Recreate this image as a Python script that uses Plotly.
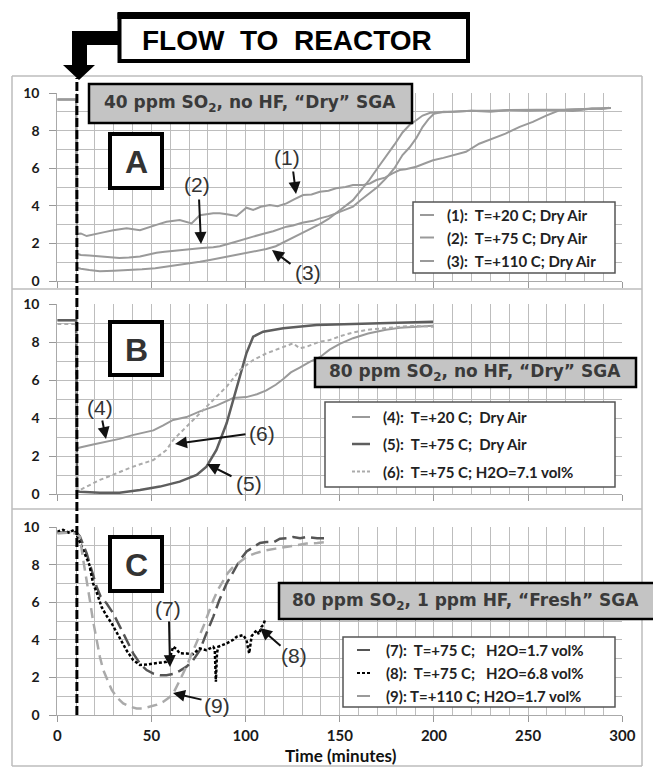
import plotly.graph_objects as go

W, H = 653, 768

# ---------------- data (minutes, signal) ----------------
# Panel A
T1 = [0, 10, 10.5, 12.5, 15.6, 20.9, 25, 29.7, 36.8, 43.9, 49, 53, 58, 65, 71.3, 75.7, 82.8, 86.3, 90, 95.2,
      100.4, 104, 108, 112.8, 117, 121.7, 126, 130.5, 135, 139.4, 144, 148, 153, 157, 162, 166, 169.4, 174,
      178, 181.8, 185, 190.6, 195, 199.5, 205, 210, 217, 224, 231, 238, 245.5, 252.5, 259.6, 266.6, 273.7,
      279, 284, 289, 293]
V1 = [9.65, 9.65, 2.5, 2.53, 2.39, 2.53, 2.6, 2.7, 2.8, 2.7, 2.88, 3.0, 3.15, 3.24, 3.06, 3.5, 3.6, 3.6, 3.55,
      3.46, 3.9, 3.78, 3.95, 4.04, 3.98, 4.13, 4.35, 4.57, 4.6, 4.75, 4.8, 4.93, 5.0, 5.1, 5.1, 5.19, 5.37, 5.5,
      5.73, 5.9, 5.94, 6.08, 6.25, 6.42, 6.55, 6.7, 6.87, 7.3, 7.57, 7.84, 8.2, 8.46, 8.8, 9.08, 9.04, 9.12,
      9.17, 9.15, 9.22]
T2 = [0, 10, 10.5, 12.5, 17, 22.6, 28, 33, 38, 43.9, 48, 52.7, 57, 61.5, 66, 72, 77, 82.8, 86.3, 93.4, 98, 104,
      109, 114.6, 121.7, 125.2, 130, 135.8, 139.4, 144, 148, 152, 157, 161, 165.6, 170, 174.5, 179, 183.3, 187,
      190.6, 194, 197, 200, 205, 210, 220, 230, 240, 250, 260, 270, 280, 290, 294]
V2 = [9.65, 9.65, 1.45, 1.38, 1.35, 1.3, 1.28, 1.22, 1.25, 1.3, 1.4, 1.5, 1.55, 1.6, 1.65, 1.72, 1.75, 1.8, 1.85,
      2.05, 2.2, 2.36, 2.5, 2.65, 2.89, 2.95, 3.1, 3.2, 3.33, 3.45, 3.6, 3.75, 3.95, 4.3, 4.66, 5.0, 5.46, 6.0,
      6.7, 7.1, 7.6, 8.2, 8.6, 8.9, 9.0, 9.0, 9.05, 9.0, 9.1, 9.05, 9.1, 9.1, 9.15, 9.2, 9.2]
T3 = [0, 10, 10.5, 12.5, 17, 22.6, 30, 38, 45, 52, 58, 67, 75.7, 81, 86.3, 93, 98, 104, 111, 116, 121.7, 127,
      132, 136, 139.4, 144, 148, 152, 157, 161, 165.6, 170, 174.5, 179, 183.3, 187, 190.6, 194, 198, 205, 210,
      220, 230, 240, 250, 260, 270, 280, 290, 294]
V3 = [9.65, 9.65, 0.7, 0.65, 0.58, 0.52, 0.55, 0.58, 0.62, 0.68, 0.76, 0.9, 1.03, 1.12, 1.22, 1.38, 1.47, 1.56,
      1.7, 1.85, 2.15, 2.4, 2.65, 2.85, 3.02, 3.3, 3.6, 3.9, 4.3, 4.8, 5.37, 6.0, 6.6, 7.25, 7.9, 8.3, 8.55,
      8.8, 8.95, 9.0, 9.0, 9.05, 9.05, 9.1, 9.1, 9.1, 9.12, 9.15, 9.2, 9.2]

# Panel B
T4 = [0, 10, 10.5, 12, 19, 25.8, 33, 40, 45, 51, 56, 61.5, 68.6, 75.7, 84.5, 93.4, 100.4, 106, 111, 116, 120,
      124, 128.7, 134, 139.4, 144.6, 150, 157, 165, 174.5, 182, 190, 199.5]
V4 = [9.15, 9.15, 2.4, 2.45, 2.6, 2.75, 2.9, 3.1, 3.2, 3.35, 3.6, 3.9, 4.05, 4.35, 4.65, 5.05, 5.1, 5.25, 5.45,
      5.75, 6.05, 6.4, 6.65, 6.95, 7.2, 7.6, 7.9, 8.2, 8.45, 8.65, 8.75, 8.8, 8.85]
T5 = [0, 10, 10.5, 12, 22.6, 33, 43.9, 54.5, 65, 74, 79.2, 84.5, 89.9, 93.4, 97, 100.4, 104, 109.3, 120, 137.6,
      157, 174.5, 190, 199.5]
V5 = [9.15, 9.15, 0.15, 0.12, 0.07, 0.07, 0.21, 0.39, 0.65, 1.0, 1.44, 2.32, 3.72, 4.95, 6.18, 7.4, 8.28, 8.54,
      8.72, 8.9, 8.95, 9.0, 9.02, 9.07]
T6 = [0, 10, 10.5, 12, 22.6, 31.5, 40.3, 51, 58, 61.5, 68.6, 75.7, 82.8, 89.9, 97, 104, 111, 120, 125.2, 128.7,
      132.3, 139.4, 144.6, 150, 157, 165, 174.5, 182, 190, 200]
V6 = [8.95, 8.95, 0.2, 0.21, 0.74, 1.09, 1.44, 1.79, 2.32, 2.84, 3.54, 4.25, 4.95, 5.65, 6.53, 7.05, 7.4, 7.75,
      7.93, 7.67, 7.75, 8.02, 8.1, 8.3, 8.5, 8.65, 8.75, 8.8, 8.85, 8.8]

# Panel C
T7 = [0, 5, 10, 12, 15.6, 20.9, 23, 26.2, 29.7, 33.3, 36.8, 40.3, 43.9, 47.4, 51, 54.5, 58, 61.5, 65, 68.6, 72,
      75.7, 79, 82.8, 86, 89.9, 93.4, 96.9, 100.5, 104, 107.6, 111, 115, 118.2, 122, 125.2, 129, 132.3, 138, 143]
V7 = [9.7, 9.7, 9.74, 9.5, 8.59, 6.81, 6.3, 5.93, 5.4, 4.69, 4.0, 3.28, 2.74, 2.39, 2.2, 2.12, 2.12, 2.18, 2.35,
      2.57, 2.9, 3.45, 4.3, 5.22, 6.1, 7.0, 7.6, 8.23, 8.7, 8.94, 9.15, 9.2, 9.2, 9.38, 9.4, 9.47, 9.4, 9.47,
      9.4, 9.4]
T8 = [0, 3, 6, 9, 10, 13.8, 17, 19, 21, 23.5, 26, 28.9, 31.5, 34, 37, 40.3, 43.9, 47, 51, 55, 58, 60, 61.5, 63.3,
      65, 68.6, 72, 75.7, 79.2, 82.8, 83.6, 84.2, 84.8, 85.5, 89.9, 93.4, 95.2, 98.7, 100.5, 101.2, 101.9, 103.2,
      105.8, 107, 108.4, 109.5, 110.2]
V8 = [9.75, 9.85, 9.7, 9.85, 9.65, 8.76, 8.0, 7.0, 6.5, 5.75, 5.3, 4.87, 4.4, 3.98, 3.4, 2.92, 2.66, 2.68, 2.74,
      2.8, 2.83, 3.1, 3.63, 3.5, 3.28, 3.27, 3.24, 3.54, 3.45, 3.63, 3.5, 1.77, 3.3, 3.63, 3.81, 4.0, 4.16, 4.25,
      3.98, 3.6, 3.28, 4.2, 4.51, 4.3, 4.69, 4.8, 5.04]
T9 = [0, 5, 10, 12, 13.8, 15.6, 17.3, 19, 20.9, 22.6, 24.4, 26.5, 28.9, 32, 35, 38.5, 42.1, 45.5, 49.2, 53, 56.3,
      59, 61.6, 64, 66.8, 69.5, 72.1, 75, 77.5, 80, 82.8, 85.5, 88.1, 90.5, 93.4, 97, 100.5, 105, 111, 116, 121.7,
      127, 132.3, 138, 143]
V9 = [9.65, 9.7, 9.65, 9.47, 8.23, 7.2, 6.1, 5.0, 3.98, 3.1, 2.39, 1.85, 1.33, 0.9, 0.62, 0.45, 0.35, 0.35, 0.44,
      0.55, 0.71, 0.9, 1.15, 1.6, 2.21, 2.8, 3.45, 4.1, 4.69, 5.4, 6.1, 6.7, 7.17, 7.55, 7.88, 8.15, 8.41, 8.6,
      8.76, 8.85, 8.94, 9.05, 9.12, 9.15, 9.2]

X_RANGE = [0, 300]
Y_RANGE = [0, 10]
X_MAJOR, X_MINOR = 50, 10
Y_MAJOR, Y_MINOR = 2, 1
FLOW_T = 10.4

LEG_A = ["(1):  T=+20 C; Dry Air", "(2):  T=+75 C; Dry Air", "(3):  T=+110 C; Dry Air"]
LEG_B = ["(4):  T=+20 C;  Dry Air", "(5):  T=+75 C;  Dry Air", "(6):  T=+75 C; H2O=7.1 vol%"]
LEG_C = ["(7):  T=+75 C;   H2O=1.7 vol%", "(8):  T=+75 C;   H2O=6.8 vol%", "(9): T=+110 C; H2O=1.7 vol%"]

BOX_A = "40 ppm SO<sub>2</sub>, no HF, \u201cDry\u201d SGA"
BOX_B = "80 ppm SO<sub>2</sub>, no HF, \u201cDry\u201d SGA"
BOX_C = "80 ppm SO<sub>2</sub>, 1 ppm HF, \u201cFresh\u201d SGA"

# ---------------- helpers ----------------
def fx(px):
    return px / W

def fy(py):
    return 1 - py / H

def nb(s):
    return s.replace("  ", "\u00a0\u00a0").replace("\u00a0 ", "\u00a0\u00a0")

X0_PX, X1_PX = 57.3, 622.3
PANELS = [(93, 281), (304, 494), (527, 715)]

fig = go.Figure()

series = [
    (T1, V1, 1, dict(color="#9a9a9a", width=2)),
    (T2, V2, 1, dict(color="#9a9a9a", width=2)),
    (T3, V3, 1, dict(color="#9a9a9a", width=2)),
    (T4, V4, 2, dict(color="#9a9a9a", width=2)),
    (T5, V5, 2, dict(color="#5e5e5e", width=2.5)),
    (T6, V6, 2, dict(color="#ababab", width=2, dash="4px,3px")),
    (T7, V7, 3, dict(color="#555555", width=2.5, dash="13px,6px")),
    (T8, V8, 3, dict(color="#000000", width=2.5, dash="3px,2px")),
    (T9, V9, 3, dict(color="#aaaaaa", width=2.5, dash="10px,6px")),
]
for t, v, p, ln in series:
    sfx = "" if p == 1 else str(p)
    fig.add_trace(go.Scatter(x=t, y=v, mode="lines", line=ln, xaxis="x" + sfx, yaxis="y" + sfx,
                             showlegend=False, hoverinfo="skip"))

GRID = "#bdbdbd"
layout_axes = {}
for i, (top, bot) in enumerate(PANELS, 1):
    sfx = "" if i == 1 else str(i)
    layout_axes["xaxis" + sfx] = dict(
        domain=[fx(X0_PX), fx(X1_PX)], range=X_RANGE, anchor="y" + sfx, automargin=False,
        tickmode="linear", tick0=0, dtick=X_MAJOR, showticklabels=(i == 3),
        showgrid=True, gridcolor=GRID, gridwidth=1.2,
        minor=dict(tickmode="linear", tick0=0, dtick=X_MINOR, showgrid=True, gridcolor=GRID, gridwidth=1.2),
        ticks="outside", ticklen=6, tickcolor="#999", showline=True, linecolor="#aaa", linewidth=1,
        zeroline=False, tickfont=dict(family="Lato", size=15, color="#1a1a1a", weight="bold"),
        ticklabelstandoff=1, fixedrange=True)
    layout_axes["yaxis" + sfx] = dict(
        domain=[fy(bot), fy(top)], range=Y_RANGE, anchor="x" + sfx, automargin=False,
        tickmode="linear", tick0=0, dtick=Y_MAJOR, showgrid=True, gridcolor=GRID, gridwidth=1.2,
        minor=dict(tickmode="linear", tick0=0, dtick=Y_MINOR, showgrid=True, gridcolor=GRID, gridwidth=1.2),
        ticks="outside", ticklen=7, tickcolor="#999", showline=True, linecolor="#aaa", linewidth=1,
        zeroline=False, tickfont=dict(family="Lato", size=14, color="#1a1a1a", weight="bold"),
        ticklabelstandoff=7, fixedrange=True)

shapes = []
ann = []

def rect(x0, y0, x1, y1, fill, line_color, lw, layer="above"):
    shapes.append(dict(type="rect", xref="paper", yref="paper", x0=fx(x0), x1=fx(x1), y0=fy(y1), y1=fy(y0),
                       fillcolor=fill, line=dict(color=line_color, width=lw), layer=layer))

def hline(x0, x1, y, color, lw, dash=None):
    ln = dict(color=color, width=lw)
    if dash:
        ln["dash"] = dash
    shapes.append(dict(type="line", xref="paper", yref="paper", x0=fx(x0), x1=fx(x1), y0=fy(y), y1=fy(y),
                       line=ln, layer="above"))

def text(px, py, s, size, family, color="#222", bold=False, xanchor="center", yanchor="middle"):
    ann.append(dict(xref="paper", yref="paper", x=fx(px), y=fy(py), text=s, showarrow=False,
                    xanchor=xanchor, yanchor=yanchor,
                    font=dict(family=family, size=size, color=color, weight="bold" if bold else "normal")))

def arrow(tx, ty, hx, hy):
    ann.append(dict(xref="paper", yref="paper", x=fx(hx), y=fy(hy), text="", showarrow=True,
                    ax=tx - hx, ay=ty - hy, axref="pixel", ayref="pixel",
                    arrowhead=2, arrowsize=1.2, arrowwidth=2, arrowcolor="#111", standoff=0))

# panel frames (outside the plot areas)
for (a, b) in [((12, 76), (642, 76)), ((12, 766), (642, 766)), ((12, 76), (12, 766)), ((642, 76), (642, 766)),
               ((12, 289), (642, 289)), ((12, 509), (642, 509))]:
    shapes.append(dict(type="line", xref="paper", yref="paper", x0=fx(a[0]), x1=fx(b[0]), y0=fy(a[1]),
                       y1=fy(b[1]), line=dict(color="#bdbdbd", width=1.5), layer="above"))

# flow line
shapes.append(dict(type="line", xref="x", yref="paper", x0=FLOW_T, x1=FLOW_T, y0=fy(715), y1=fy(78),
                   line=dict(color="#000", width=3, dash="9px,3px"), layer="above"))

# flow box and arrow
rect(119.5, 15, 468, 61, "#ffffff", "#000", 4)
rect(117.5, 12, 470, 19, "#000", "#000", 0)
pts = [(72, 31), (118, 31), (118, 45), (87, 45), (87, 65), (95, 65), (79, 80), (63, 65), (72, 65)]
path = "M " + " L ".join(f"{fx(a):.5f},{fy(b):.5f}" for a, b in pts) + " Z"
shapes.append(dict(type="path", xref="paper", yref="paper", path=path, fillcolor="#000",
                   line=dict(color="#000", width=0), layer="above"))
text(287, 40, "FLOW\u00a0\u00a0TO\u00a0\u00a0REACTOR", 28, "Liberation Sans", "#000", True)

# condition boxes
GRAYBOX = "#c4c4c4"
rect(89, 84, 412, 123, GRAYBOX, "#000", 2.5)
text(250, 104, BOX_A, 17, "DejaVu Sans", "#3a3a3a", True)
rect(315, 358, 636, 387, GRAYBOX, "#000", 2.5)
text(475, 373, BOX_B, 17, "DejaVu Sans", "#3a3a3a", True)
rect(279, 583, 656, 619, GRAYBOX, "#000", 2.5)
text(465, 601, BOX_C, 17, "DejaVu Sans", "#3a3a3a", True)

# letter boxes
for (y0, y1), L in zip([(134, 188), (322, 375), (537, 591)], ["A", "B", "C"]):
    rect(110, y0, 162, y1, "#ffffff", "#000", 4)
    text(136, (y0 + y1) / 2 + 1, L, 32, "Liberation Sans", "#333", True)

# legends
def legend(box, rows, sample_x, text_x, labels, styles):
    rect(*box, "#ffffff", "#555", 1.5)
    for yy, lab, st in zip(rows, labels, styles):
        hline(sample_x[0], sample_x[1], yy, st[0], st[1], st[2])
        text(text_x, yy, nb(lab), 15, "Lato", "#222", True, xanchor="left")

legend((413, 202, 615, 273), [215, 237.5, 261], (420, 434), 445, LEG_A,
       [("#9a9a9a", 2, None)] * 3)
legend((325, 402, 615, 487), [417, 444, 471.5], (352, 370), 381, LEG_B,
       [("#9a9a9a", 2, None), ("#5e5e5e", 2.5, None), ("#ababab", 2, "3px,2px")])
legend((343, 637, 615, 707), [650, 673, 696], (357, 370), 384, LEG_C,
       [("#555555", 2, None), ("#000000", 2, "3px,2px"), ("#9a9a9a", 2, None)])

# curve labels and arrows
LBL = "#333"
LS = 21
text(287, 157, "(1)", LS, "Liberation Sans", LBL)
arrow(293, 170, 296, 194)
text(197, 185, "(2)", LS, "Liberation Sans", LBL)
arrow(199, 198, 201, 244)
text(308, 272, "(3)", LS, "Liberation Sans", LBL)
arrow(292, 265, 272, 250)
text(100, 407, "(4)", LS, "Liberation Sans", LBL)
arrow(102, 419, 106, 439)
text(262, 433, "(6)", LS, "Liberation Sans", LBL)
arrow(247, 434, 175, 444)
text(249, 483, "(5)", LS, "Liberation Sans", LBL)
arrow(233, 477, 207, 464)
text(168, 608, "(7)", LS, "Liberation Sans", LBL)
arrow(169, 620, 170, 667)
text(294, 655, "(8)", LS, "Liberation Sans", LBL)
arrow(282, 647, 260, 628)
text(217, 705, "(9)", LS, "Liberation Sans", LBL)
arrow(203, 700, 173, 693)

# x title
text(341, 768, "Time (minutes)", 17, "Lato", "#111", True, yanchor="bottom")

fig.update_layout(template="none", width=W, height=H, margin=dict(l=0, r=0, t=0, b=0, autoexpand=False),
                  paper_bgcolor="#fff", plot_bgcolor="#fff", shapes=shapes, annotations=ann,
                  showlegend=False, **layout_axes)
fig.write_html("out.html", config={"displayModeBar": False},
               post_script="document.body.style.margin='0';document.body.style.padding='0';"
                           "document.documentElement.style.overflow='hidden';")
